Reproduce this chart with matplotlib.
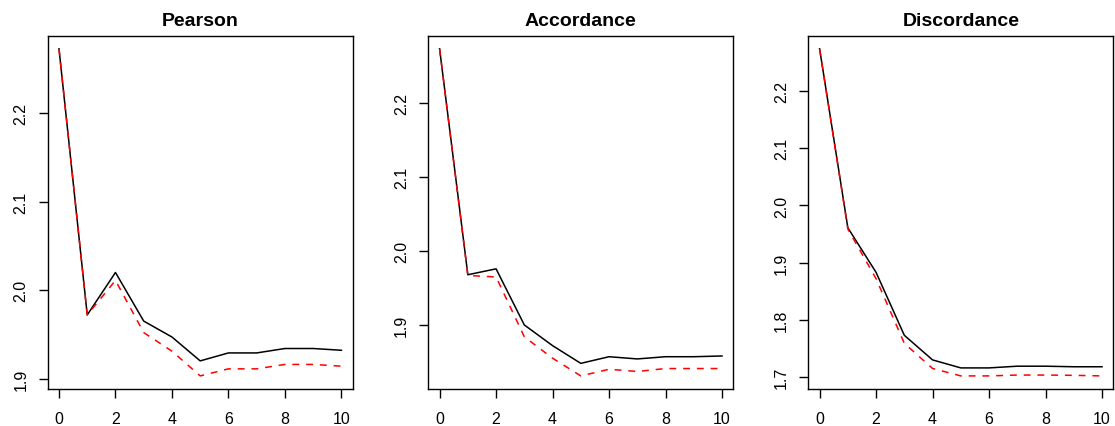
import numpy as np
import matplotlib
matplotlib.use("Agg")
import matplotlib.pyplot as plt

plt.rcParams['font.family'] = ['Liberation Sans', 'DejaVu Sans']

x = np.arange(11)

titles = ['Pearson', 'Accordance', 'Discordance']

# black solid lines
pearson_black = [2.273, 1.972, 2.020, 1.965, 1.947, 1.920, 1.929, 1.929, 1.934, 1.934, 1.932]
accord_black = [2.274, 1.968, 1.976, 1.900, 1.872, 1.848, 1.857, 1.854, 1.857, 1.857, 1.858]
discord_black = [2.274, 1.961, 1.883, 1.773, 1.730, 1.716, 1.716, 1.719, 1.719, 1.718, 1.718]

# red dashed lines
pearson_red = [2.273, 1.972, 2.011, 1.952, 1.931, 1.903, 1.911, 1.911, 1.916, 1.916, 1.914]
accord_red = [2.274, 1.967, 1.965, 1.884, 1.855, 1.831, 1.840, 1.837, 1.841, 1.841, 1.841]
discord_red = [2.274, 1.959, 1.872, 1.759, 1.715, 1.702, 1.702, 1.7035, 1.7035, 1.703, 1.702]

blacks = [pearson_black, accord_black, discord_black]
reds = [pearson_red, accord_red, discord_red]
yticks = [[1.9, 2.0, 2.1, 2.2],
          [1.9, 2.0, 2.1, 2.2],
          [1.7, 1.8, 1.9, 2.0, 2.1, 2.2]]
xticks = [0, 2, 4, 6, 8, 10]

W, H = 1115, 427
fig = plt.figure(figsize=(W / 100, H / 100), dpi=100)

lefts = [47.7, 428.3, 808.3]
pw = 305.0
top, bottom = 36.7, 390.0

for i in range(3):
    ax = fig.add_axes([lefts[i] / W, 1 - bottom / H, pw / W, (bottom - top) / H])
    ax.plot(x, blacks[i], color='black', lw=1.1)
    ax.plot(x, reds[i], color='red', lw=1.1, linestyle=(0, (4.5, 4.5)))

    # R-style 4% padding around the data range
    allv = np.array(blacks[i] + reds[i])
    lo, hi = allv.min(), allv.max()
    ext = (hi - lo) * 0.04
    ax.set_ylim(lo - ext, hi + ext)
    ax.set_xlim(-0.4, 10.4)

    ax.set_xticks(xticks)
    ax.set_yticks(yticks[i])
    ax.set_yticklabels(['%.1f' % v for v in yticks[i]], rotation=90, va='center')
    ax.tick_params(direction='out', length=6.5, width=1.0, labelsize=11.5)
    ax.tick_params(axis='x', pad=9)
    ax.tick_params(axis='y', pad=7.5)
    for s in ax.spines.values():
        s.set_linewidth(1.0)
    ax.set_title(titles[i], fontsize=14, fontweight='bold', pad=8)

fig.savefig('out.png', dpi=100)
